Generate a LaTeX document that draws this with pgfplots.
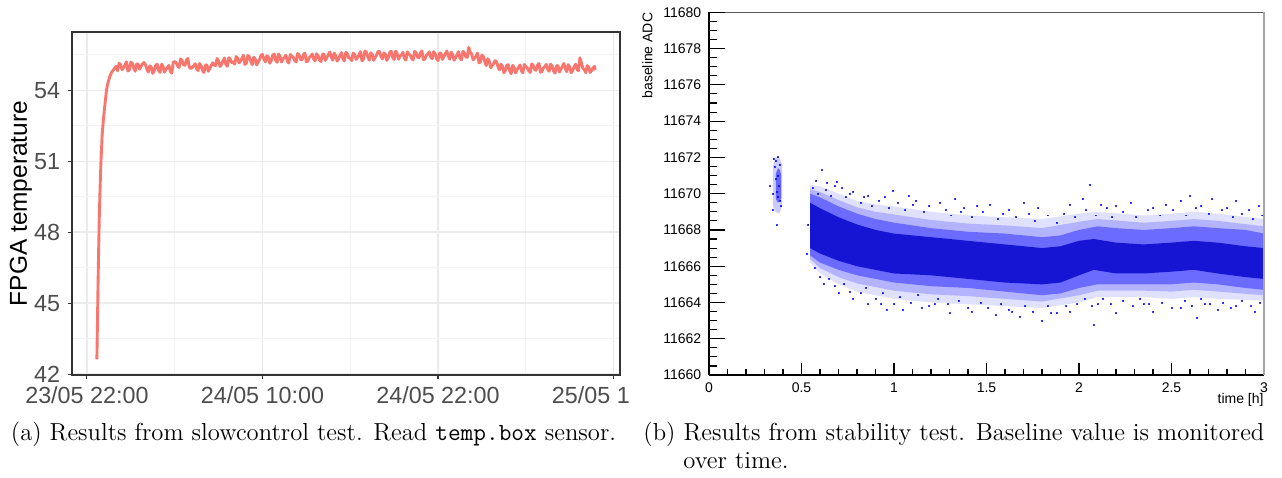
\documentclass[border=0pt]{standalone}
\usepackage{fontspec}
\usepackage{pgfplots}
\pgfplotsset{compat=1.18}
\newfontfamily\hv{Liberation Sans}
\definecolor{ggred}{HTML}{F8766D}
\definecolor{grey20}{HTML}{333333}
\definecolor{grey30}{HTML}{4D4D4D}
\definecolor{grey92}{HTML}{EBEBEB}
\definecolor{rootblue}{RGB}{0,0,255}
\definecolor{rootcore}{RGB}{0,0,200}

\begin{document}
\begin{tikzpicture}[x=0.45pt,y=-0.45pt]
\useasboundingbox (0,0) rectangle (1282,477);

% (a) slowcontrol temperature
\begin{scope}
\clip (0,0) rectangle (628,415);
\begin{axis}[
    at={(32.4pt,-168.75pt)}, anchor=south west, scale only axis,
    width=246.6pt, height=154.35pt,
    xmin=-1.02, xmax=36.44, ymin=41.97, ymax=56.47,
    xtick={0,12,24,36},
    xticklabels={23/05 22:00, 24/05 10:00, 24/05 22:00, 25/05 10:00},
    minor xtick={6,18,30},
    ytick={42,45,48,51,54},
    minor ytick={43.5,46.5,49.5,52.5,55.5},
    grid=both,
    major grid style={grey92, line width=0.8pt},
    minor grid style={grey92!60, line width=0.45pt},
    tick pos=left, tick align=outside,
    major tick length=1.8pt, minor tick length=0pt,
    tick style={grey20, line width=0.5pt},
    axis line style={grey20, line width=0.5pt},
    tick label style={font=\hv\fontsize{10.5}{12}\selectfont, text=grey30},
    /pgf/number format/assume math mode=true,
    ylabel={FPGA temperature},
    ylabel style={font=\hv\fontsize{11}{13}\selectfont},
    ylabel shift=-5.8pt,
]
\addplot[ggred, line width=1.3pt, line join=round] coordinates {
(0.68,42.63) (0.72,44.2) (0.76,45.8) (0.80,47.2) (0.84,48.5) (0.90,49.9)
(0.96,51.0) (1.04,52.1) (1.13,52.8) (1.23,53.4) (1.34,54.03) (1.45,54.35)
(1.57,54.6) (1.70,54.78) (1.85,54.9) (2.0,55.02)
(2.1,54.83) (2.2,55.15) (2.3,55.09) (2.4,54.88) (2.5,54.96) (2.6,55.08) (2.7,55.21) (2.8,54.82)
(2.9,54.87) (3.0,55.20) (3.1,55.15) (3.2,54.95) (3.3,54.81) (3.4,55.12) (3.5,55.11) (3.6,54.90)
(3.7,55.02) (3.8,55.13) (3.9,55.18) (4.0,55.09) (4.1,54.89) (4.2,54.78) (4.3,55.04) (4.4,54.98)
(4.5,54.72) (4.6,54.83) (4.7,55.06) (4.8,55.11) (4.9,54.85) (5.0,54.76) (5.1,55.11) (5.2,55.02)
(5.3,54.77) (5.4,54.90) (5.5,54.96) (5.6,55.06) (5.7,54.81) (5.8,54.73) (5.9,55.19) (6.0,55.22)
(6.1,55.17) (6.2,55.04) (6.3,54.97) (6.4,55.33) (6.5,55.28) (6.6,55.09) (6.7,55.06) (6.8,55.28)
(6.9,55.35) (7.0,54.98) (7.1,54.92) (7.2,54.98) (7.3,55.04) (7.4,55.13) (7.5,54.92) (7.6,54.84)
(7.7,55.14) (7.8,55.06) (7.9,54.85) (8.0,54.76) (8.1,55.07) (8.2,55.08) (8.3,54.81) (8.4,54.93)
(8.5,55.05) (8.6,55.17) (8.7,55.07) (8.8,55.05) (8.9,55.35) (9.0,55.25) (9.1,55.01) (9.2,55.10)
(9.3,55.25) (9.4,55.37) (9.5,55.10) (9.6,55.02) (9.7,55.38) (9.8,55.32) (9.9,55.18) (10.0,55.21)
(10.1,55.11) (10.2,55.43) (10.3,55.37) (10.4,55.16) (10.5,55.24) (10.6,55.36) (10.7,55.49) (10.8,55.10)
(10.9,55.15) (11.0,55.48) (11.1,55.43) (11.2,55.23) (11.3,55.09) (11.4,55.40) (11.5,55.34) (11.6,55.08)
(11.7,55.20) (11.8,55.31) (11.9,55.49) (12.0,55.52) (12.1,55.32) (12.2,55.21) (12.3,55.47) (12.4,55.41)
(12.5,55.15) (12.6,55.26) (12.7,55.49) (12.8,55.54) (12.9,55.28) (13.0,55.19) (13.1,55.54) (13.2,55.45)
(13.3,55.20) (13.4,55.33) (13.5,55.39) (13.6,55.49) (13.7,55.24) (13.8,55.16) (13.9,55.52) (14.0,55.45)
(14.1,55.40) (14.2,55.27) (14.3,55.20) (14.4,55.56) (14.5,55.51) (14.6,55.32) (14.7,55.29) (14.8,55.51)
(14.9,55.58) (15.0,55.21) (15.1,55.24) (15.2,55.39) (15.3,55.45) (15.4,55.54) (15.5,55.33) (15.6,55.25)
(15.7,55.55) (15.8,55.47) (15.9,55.28) (16.0,55.22) (16.1,55.53) (16.2,55.54) (16.3,55.27) (16.4,55.39)
(16.5,55.51) (16.6,55.63) (16.7,55.42) (16.8,55.28) (16.9,55.58) (17.0,55.48) (17.1,55.24) (17.2,55.33)
(17.3,55.48) (17.4,55.60) (17.5,55.33) (17.6,55.25) (17.7,55.61) (17.8,55.55) (17.9,55.37) (18.0,55.36)
(18.1,55.26) (18.2,55.58) (18.3,55.52) (18.4,55.31) (18.5,55.39) (18.6,55.51) (18.7,55.64) (18.8,55.25)
(18.9,55.32) (19.0,55.67) (19.1,55.62) (19.2,55.42) (19.3,55.28) (19.4,55.59) (19.5,55.53) (19.6,55.27)
(19.7,55.39) (19.8,55.50) (19.9,55.65) (20.0,55.64) (20.1,55.44) (20.2,55.33) (20.3,55.59) (20.4,55.53)
(20.5,55.27) (20.6,55.38) (20.7,55.61) (20.8,55.66) (20.9,55.40) (21.0,55.31) (21.1,55.66) (21.2,55.57)
(21.3,55.32) (21.4,55.45) (21.5,55.51) (21.6,55.61) (21.7,55.36) (21.8,55.28) (21.9,55.63) (22.0,55.54)
(22.1,55.49) (22.2,55.36) (22.3,55.29) (22.4,55.65) (22.5,55.60) (22.6,55.41) (22.7,55.38) (22.8,55.60)
(22.9,55.67) (23.0,55.30) (23.1,55.33) (23.2,55.48) (23.3,55.54) (23.4,55.63) (23.5,55.42) (23.6,55.34)
(23.7,55.64) (23.8,55.56) (23.9,55.35) (24.0,55.26) (24.1,55.57) (24.2,55.58) (24.3,55.31) (24.4,55.43)
(24.5,55.55) (24.6,55.67) (24.7,55.46) (24.8,55.32) (24.9,55.62) (25.0,55.52) (25.1,55.28) (25.2,55.37)
(25.3,55.52) (25.4,55.64) (25.5,55.37) (25.6,55.29) (25.7,55.65) (25.8,55.59) (25.9,55.41) (26.0,55.40)
(26.1,55.82) (26.2,55.62) (26.3,55.54) (26.4,55.30) (26.5,55.36) (26.6,55.46) (26.7,55.58) (26.8,55.17)
(26.9,55.20) (27.0,55.50) (27.1,55.43) (27.2,55.21) (27.3,55.05) (27.4,55.34) (27.5,55.25) (27.6,54.96)
(27.7,55.05) (27.8,55.13) (27.9,55.26) (28.0,55.22) (28.1,55.00) (28.2,54.87) (28.3,55.11) (28.4,55.03)
(28.5,54.75) (28.6,54.84) (28.7,55.06) (28.8,55.09) (28.9,54.82) (29.0,54.71) (29.1,55.06) (29.2,54.97)
(29.3,54.74) (29.4,54.88) (29.5,54.96) (29.6,55.08) (29.7,54.83) (29.8,54.75) (29.9,55.10) (30.0,55.01)
(30.1,54.96) (30.2,54.83) (30.3,54.76) (30.4,55.12) (30.5,55.07) (30.6,54.88) (30.7,54.85) (30.8,55.07)
(30.9,55.14) (31.0,54.77) (31.1,54.80) (31.2,54.95) (31.3,55.01) (31.4,55.10) (31.5,54.89) (31.6,54.81)
(31.7,55.11) (31.8,55.03) (31.9,54.82) (32.0,54.73) (32.1,55.04) (32.2,55.05) (32.3,54.78) (32.4,54.90)
(32.5,55.02) (32.6,55.14) (32.7,54.93) (32.8,54.79) (32.9,55.09) (33.0,54.99) (33.1,54.75) (33.2,54.84)
(33.3,54.99) (33.4,55.11) (33.5,54.88) (33.6,54.84) (33.7,55.38) (33.8,55.17) (33.9,54.94) (34.0,54.88)
(34.1,54.75) (34.2,55.05) (34.3,54.98) (34.4,54.76) (34.5,54.84) (34.6,54.96) (34.7,55.02) (34.74,54.85)
};
\end{axis}
\end{scope}

% (b) baseline stability: data and x axis
\begin{axis}[
    at={(319.05pt,-168.75pt)}, anchor=south west, scale only axis,
    width=249.75pt, height=163.2pt,
    xmin=0, xmax=3, ymin=11660, ymax=11680,
    clip=false,
    axis x line*=bottom, axis y line=none,
    axis line style={-, black, line width=0.5pt},
    xtick={0,0.5,1,1.5,2,2.5,3}, minor x tick num=4, ytick=\empty,
    tick align=inside, major tick length=5.4pt, minor tick length=2.7pt,
    tick style={black, line width=0.5pt},
    xticklabel style={font=\hv\fontsize{6.3}{7.5}\selectfont},
    /pgf/number format/assume math mode=true,
]
% density layers of the cloud (upper edge, then lower edge backwards)
\addplot[draw=none, fill=rootblue, fill opacity=0.12] coordinates {
(0.546,11670.5) (0.6,11670.4) (0.7,11670.0) (0.8,11669.6) (0.9,11669.4) (1.0,11669.3)
(1.2,11669.0) (1.4,11668.8) (1.6,11668.7) (1.8,11668.6) (2.0,11668.9) (2.1,11669.0)
(2.35,11668.8) (2.5,11668.9) (2.62,11669.0) (2.75,11668.9) (3.0,11668.6)
(3.0,11664.1) (2.75,11664.2) (2.62,11664.3) (2.5,11664.2) (2.35,11664.3) (2.1,11664.3)
(2.0,11664.0) (1.8,11663.7) (1.6,11663.8) (1.4,11663.9) (1.2,11664.0) (1.0,11664.2)
(0.9,11664.4) (0.8,11664.6) (0.7,11665.0) (0.6,11665.6) (0.546,11666.2)} -- cycle;
\addplot[draw=none, fill=rootblue, fill opacity=0.2] coordinates {
(0.546,11670.25) (0.6,11670.1) (0.7,11669.65) (0.8,11669.25) (0.9,11669.0) (1.0,11668.85)
(1.2,11668.55) (1.4,11668.35) (1.6,11668.25) (1.8,11668.1) (2.0,11668.45) (2.1,11668.6)
(2.35,11668.4) (2.5,11668.5) (2.62,11668.6) (2.75,11668.5) (3.0,11668.2)
(3.0,11664.4) (2.75,11664.6) (2.62,11664.7) (2.5,11664.6) (2.35,11664.65) (2.1,11664.65)
(2.0,11664.4) (1.8,11664.05) (1.6,11664.2) (1.4,11664.35) (1.2,11664.45) (1.0,11664.65)
(0.9,11664.85) (0.8,11665.05) (0.7,11665.4) (0.6,11665.9) (0.546,11666.4)} -- cycle;
\addplot[draw=none, fill=rootblue, fill opacity=0.4] coordinates {
(0.546,11670.0) (0.6,11669.8) (0.7,11669.3) (0.8,11668.9) (0.9,11668.6) (1.0,11668.4)
(1.2,11668.1) (1.4,11667.9) (1.6,11667.8) (1.8,11667.6) (1.9,11667.7) (2.0,11668.0)
(2.1,11668.2) (2.2,11668.1) (2.35,11668.0) (2.5,11668.1) (2.62,11668.2) (2.75,11668.1)
(2.9,11668.0) (3.0,11667.8)
(3.0,11664.7) (2.9,11664.8) (2.75,11665.0) (2.62,11665.1) (2.5,11665.0) (2.35,11665.0)
(2.2,11665.0) (2.1,11665.0) (2.0,11664.8) (1.9,11664.5) (1.8,11664.4) (1.6,11664.6)
(1.4,11664.8) (1.2,11664.9) (1.0,11665.1) (0.9,11665.3) (0.8,11665.5) (0.7,11665.8)
(0.6,11666.2) (0.546,11666.6)} -- cycle;
\addplot[draw=none, fill=rootcore, fill opacity=0.8] coordinates {
(0.546,11669.5) (0.6,11669.2) (0.7,11668.7) (0.8,11668.3) (0.9,11668.0) (1.0,11667.8)
(1.2,11667.6) (1.4,11667.4) (1.6,11667.2) (1.8,11667.0) (1.9,11667.1) (2.0,11667.4)
(2.08,11667.5) (2.2,11667.3) (2.35,11667.2) (2.5,11667.3) (2.62,11667.4) (2.75,11667.3)
(2.9,11667.1) (3.0,11667.0)
(3.0,11665.3) (2.9,11665.4) (2.75,11665.6) (2.62,11665.8) (2.5,11665.7) (2.35,11665.6)
(2.2,11665.6) (2.08,11665.8) (2.0,11665.5) (1.9,11665.1) (1.8,11665.0) (1.6,11665.1)
(1.4,11665.3) (1.2,11665.5) (1.0,11665.6) (0.9,11665.8) (0.8,11666.0) (0.7,11666.3)
(0.6,11666.7) (0.546,11667.0)} -- cycle;
% early short run
\addplot[draw=none, fill=rootblue, fill opacity=0.2] coordinates {
(0.345,11671.5) (0.36,11672.0) (0.38,11672.0) (0.395,11671.6)
(0.395,11669.3) (0.38,11668.9) (0.36,11669.0) (0.345,11669.3)} -- cycle;
\addplot[draw=none, fill=rootblue, fill opacity=0.5] coordinates {
(0.362,11671.1) (0.372,11671.4) (0.384,11671.3) (0.39,11671.0)
(0.39,11669.8) (0.384,11669.6) (0.372,11669.5) (0.362,11669.7)} -- cycle;
\addplot[only marks, mark=square*, mark size=0.22pt, rootblue, opacity=0.75] coordinates {
(0.58,11670.7) (0.61,11671.3) (0.64,11670.6) (0.69,11670.65) (0.72,11670.3)
(0.78,11670.1) (0.86,11669.9) (0.95,11669.8) (0.995,11670.15) (1.12,11669.6)
(1.25,11669.5) (1.33,11669.7) (1.45,11669.3) (1.52,11669.4) (1.62,11669.1)
(1.7,11669.5) (1.78,11669.2) (1.95,11669.4) (2.02,11669.7) (2.06,11670.5)
(2.12,11669.4) (2.2,11669.3) (2.28,11669.5) (2.4,11669.2) (2.47,11669.4)
(2.55,11669.6) (2.6,11669.9) (2.66,11669.3) (2.72,11669.7) (2.8,11669.2)
(2.85,11669.6) (2.92,11669.1) (2.97,11669.3) (1.08,11669.9) (1.38,11669.2)
(0.62,11665.0) (0.7,11664.5) (0.78,11664.2) (0.86,11663.9) (0.93,11663.9)
(0.96,11663.6) (1.05,11663.6) (1.15,11663.7) (1.3,11663.4) (1.42,11663.5)
(1.55,11663.3) (1.68,11663.2) (1.8,11663.0) (1.85,11663.4) (1.95,11663.5)
(2.08,11662.75) (2.1,11663.9) (2.2,11663.4) (2.35,11663.9) (2.4,11663.5)
(2.55,11663.7) (2.64,11663.16) (2.68,11663.9) (2.75,11663.6) (2.85,11663.8)
(2.95,11663.5) (1.22,11663.9) (1.62,11663.6) (0.528,11666.7) (0.535,11668.3)
(0.366,11668.26) (0.35,11671.9) (0.33,11670.4) (0.345,11669.1)
(0.56,11670.3) (0.59,11670.0) (0.63,11670.2) (0.66,11669.9) (0.68,11670.4)
(0.74,11669.8) (0.76,11670.0) (0.82,11669.5) (0.84,11669.8) (0.88,11669.3)
(0.92,11669.6) (0.97,11669.2) (1.02,11669.5) (1.06,11669.1) (1.1,11669.4)
(1.16,11669.0) (1.19,11669.3) (1.28,11669.1) (1.31,11668.8) (1.36,11669.0)
(1.42,11668.7) (1.48,11669.0) (1.56,11668.6) (1.59,11668.9) (1.66,11668.7)
(1.73,11668.9) (1.76,11668.5) (1.83,11668.8) (1.88,11668.4) (1.92,11668.9)
(1.98,11668.7) (2.04,11669.1) (2.09,11668.8) (2.15,11669.2) (2.18,11668.7)
(2.24,11669.0) (2.31,11668.7) (2.37,11669.1) (2.44,11668.8) (2.51,11669.1)
(2.58,11668.8) (2.63,11669.2) (2.7,11668.9) (2.77,11669.1) (2.83,11668.7)
(2.88,11668.9) (2.94,11668.6) (2.99,11668.8)
(0.57,11665.9) (0.6,11665.4) (0.65,11665.3) (0.68,11664.9) (0.73,11665.0)
(0.76,11664.6) (0.82,11664.5) (0.85,11664.8) (0.9,11664.2) (0.94,11664.5)
(1.0,11663.9) (1.03,11664.3) (1.09,11664.0) (1.13,11664.4) (1.19,11663.8)
(1.24,11664.2) (1.29,11663.9) (1.35,11664.1) (1.4,11663.7) (1.47,11664.0)
(1.51,11663.7) (1.58,11663.9) (1.64,11663.5) (1.71,11663.8) (1.75,11663.5)
(1.83,11663.8) (1.88,11663.4) (1.93,11663.8) (1.99,11663.9) (2.03,11664.2)
(2.07,11663.8) (2.13,11664.2) (2.17,11663.9) (2.24,11664.1) (2.29,11663.8)
(2.33,11664.2) (2.38,11663.9) (2.45,11664.0) (2.5,11663.7) (2.57,11664.1)
(2.61,11663.8) (2.66,11664.2) (2.71,11663.9) (2.78,11664.0) (2.82,11663.7)
(2.88,11664.1) (2.93,11663.8) (2.98,11664.0)
(0.355,11671.5) (0.36,11670.8) (0.365,11670.1) (0.37,11669.8) (0.375,11671.0)
(0.38,11670.4) (0.385,11669.6) (0.362,11671.8) (0.372,11672.0) (0.348,11670.0)
(0.39,11669.3) (0.382,11671.6)
};
\draw[black!65, line width=0.5pt] (rel axis cs:0,1) -- (rel axis cs:1,1);
\draw[black!35, line width=0.9pt] (rel axis cs:1,0) -- (rel axis cs:1,1);
\node[anchor=north east, inner sep=0pt, font=\hv\fontsize{6.3}{7.5}\selectfont]
    at ([yshift=-8.1pt]rel axis cs:1,0) {time [h]};
\end{axis}

% (b) y axis
\begin{axis}[
    at={(319.05pt,-168.75pt)}, anchor=south west, scale only axis,
    width=249.75pt, height=163.2pt,
    xmin=0, xmax=3, ymin=11660, ymax=11680,
    clip=false,
    axis y line*=left, axis x line=none,
    axis line style={-, black, line width=0.5pt},
    xtick=\empty,
    ytick={11660,11662,11664,11666,11668,11670,11672,11674,11676,11678,11680},
    minor y tick num=3,
    tick align=inside, major tick length=7.2pt, minor tick length=3.6pt,
    tick style={black, line width=0.5pt},
    scaled y ticks=false,
    yticklabel style={font=\hv\fontsize{6.3}{7.5}\selectfont,
        /pgf/number format/fixed, /pgf/number format/1000 sep={}},
    /pgf/number format/assume math mode=true,
]
\addplot[draw=none] coordinates {(0,11660) (3,11680)};
\node[rotate=90, anchor=south east, inner sep=0pt, font=\hv\fontsize{6.3}{7.5}\selectfont]
    at ([xshift=-25.2pt]rel axis cs:0,1) {baseline ADC};
\end{axis}

% captions
\node[anchor=base, inner sep=0pt, font=\fontsize{11.08}{13.5}\selectfont] at (313.5,440)
    {(a) Results from slowcontrol test. Read \texttt{temp.box} sensor.};
\node[anchor=base west, inner sep=0pt, font=\fontsize{11.08}{13.5}\selectfont] at (643,440)
    {(b) Results from stability test. Baseline value is monitored};
\node[anchor=base west, inner sep=0pt, font=\fontsize{11.08}{13.5}\selectfont] at (683,468)
    {over time.};
\end{tikzpicture}
\end{document}
